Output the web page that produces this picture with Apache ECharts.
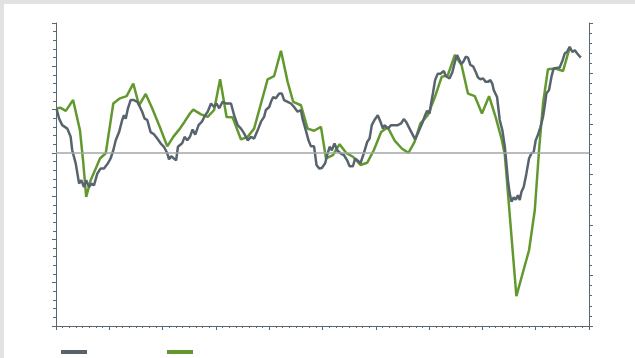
<!DOCTYPE html>
<html>
<head>
<meta charset="utf-8">
<script src="https://cdn.jsdelivr.net/npm/echarts@6/dist/echarts.min.js"></script>
<style>
	html, body { margin: 0; padding: 0; background: #e1e3e3; }
	#line-chart { position: absolute; left: 4px; top: 4px; width: 631px; height: 354px; background: #fff; }
</style>
</head>
<body>
<div id="line-chart"></div>
<script>
// x = months from the start of the chart, y = values on the left axis
var grayMonths = [0.3, 1.4, 2.8, 5.1, 6.6, 7.3, 8.9, 10.4, 11.4, 12.6, 13.6, 14.9, 15.9, 17.1, 18.6, 20.1, 21.6, 23.4, 24.6, 25.8,
	26.9, 28.4, 29.8, 30.6, 31.4, 32.4, 33.6, 35.1, 36.6, 37.8, 38.8, 39.9, 41.1, 42.6, 44.1, 45.6, 47.1, 48.6, 50.1, 50.9,
	51.9, 53.1, 54.1, 54.9, 56.8, 57.9, 59.1, 60.3, 61.5, 62.7, 64.2, 65.7, 67.2, 68.3, 69.8, 71.2, 72.3, 73.5, 75.0, 76.5,
	78.8, 80.2, 81.8, 83.3, 84.7, 86.3, 87.8, 89.2, 90.8, 92.3, 93.7, 94.5, 96.0, 96.8, 97.8, 99.0, 100.5, 101.7, 102.7, 104.3,
	105.8, 107.2, 108.8, 110.3, 111.0, 112.5, 113.7, 114.8, 116.2, 117.3, 118.5, 119.7, 121.2, 122.1, 123.2, 124.2, 125.4, 126.6, 128.1, 129.6,
	131.1, 132.2, 133.7, 134.7, 135.9, 137.1, 138.6, 140.1, 141.2, 142.2, 143.4, 144.9, 146.1, 147.2, 147.9, 149.4, 150.9, 152.1, 153.9, 155.4,
	156.6, 157.6, 159.2, 160.7, 161.7, 162.9, 164.1, 165.2, 166.2, 167.1, 168.2, 168.9, 169.7, 170.7, 171.9, 173.1, 174.6, 175.6, 177.2, 178.5,
	179.6, 180.6, 181.5, 182.6, 183.6, 184.5, 185.5, 186.6, 187.8, 189.0, 190.0, 191.1, 192.3, 193.5, 194.5, 195.6, 196.5, 197.1, 198.0, 198.6,
	199.8, 201.0, 202.1, 202.8, 203.5, 204.3, 205.1, 206.1, 207.0, 208.0, 208.8, 209.6, 210.6, 211.8, 213.0, 214.1, 215.1, 216.0, 217.0, 218.1,
	219.3, 220.1, 220.8, 222.0, 223.1, 224.1, 225.3, 226.8, 228.0, 229.1, 230.1, 231.3, 232.5, 233.6, 234.6, 235.5, 236.3];
var grayValues = [10.1, 7.9, 6.4, 5.6, 3.7, 0.6, -2.5, -7.1, -6.3, -7.9, -6.3, -7.9, -7.1, -7.5, -4.8, -3.6, -3.6, -2.4, -1.3, 0.6,
	2.9, 4.8, 7.6, 8.7, 7.9, 10.3, 12.2, 12.2, 11.8, 10.6, 9.5, 7.9, 7.6, 4.8, 4.3, 3.3, 2.2, 1.4, -0.1, -1.5,
	-0.8, -1.3, -1.7, 1.4, 2.2, 3.7, 2.9, 3.7, 5.4, 4.2, 6.4, 7.2, 8.7, 9.5, 11.4, 10.6, 11.4, 10.3, 11.8, 11.4,
	11.4, 8.7, 6.4, 5.6, 4.5, 2.9, 3.7, 3.3, 5.2, 7.2, 8.3, 9.9, 10.6, 11.8, 12.9, 12.6, 13.7, 13.7, 12.2, 11.8,
	11.4, 10.6, 9.5, 9.9, 7.9, 5.2, 2.9, 1.5, 1.5, -2.8, -3.6, -3.5, -2.4, -0.5, 1.4, 0.6, 2.2, 0.6, -0.1, -0.5,
	-1.7, -3.1, -3.1, -1.3, -1.8, -2.4, -0.1, 2.5, 3.3, 6.4, 7.6, 8.7, 7.2, 5.6, 6.4, 5.6, 6.4, 6.4, 6.4, 6.8,
	7.8, 7.2, 5.6, 4.1, 3.1, 4.5, 5.9, 7.2, 8.7, 9.7, 9.1, 11.4, 13.7, 16.8, 18.3, 18.3, 18.9, 17.7, 17.2, 18.7,
	21.0, 22.6, 21.6, 20.5, 21.2, 22.2, 22.0, 20.3, 20.0, 18.7, 17.4, 17.0, 17.2, 16.4, 16.4, 16.8, 15.9, 14.5, 14.5, 12.9,
	7.6, 5.2, 1.4, -2.4, -6.3, -9.4, -11.3, -10.3, -10.8, -9.8, -10.9, -9.0, -7.9, -4.8, -1.3, -0.1, 0.2, 2.9, 4.1, 5.9,
	8.3, 11.0, 13.7, 14.5, 17.6, 19.5, 19.6, 19.7, 21.2, 23.0, 23.3, 24.5, 23.3, 23.7, 23.0, 23.1, 22.0];

var greenMonths = [0.3, 2.1, 4.4, 7.7, 10.8, 12.3, 13.6, 15.6, 17.9, 19.8, 22.4, 25.8, 28.8, 31.8, 34.8, 37.4, 40.4, 43.3, 46.8, 50.1,
	52.8, 55.8, 57.9, 60.3, 61.8, 65.3, 68.3, 71.2, 73.9, 76.8, 79.5, 83.3, 86.3, 89.2, 95.3, 98.2, 101.3, 104.3, 106.8, 110.3,
	113.3, 116.2, 119.3, 121.6, 124.7, 127.7, 130.6, 133.7, 137.1, 140.1, 143.1, 146.4, 149.4, 152.4, 155.7, 158.7, 161.4, 164.1, 167.4, 170.4,
	173.7, 176.4, 179.6, 182.6, 185.5, 188.6, 191.8, 195.0, 198.0, 200.6, 202.1, 207.3, 213.0, 215.6, 217.5, 219.3, 221.5, 225.0, 228.3, 231.3];
var greenValues = [10.3, 10.4, 9.7, 12.2, 5.2, -2.4, -10.2, -6.3, -3.6, -1.3, -0.1, 11.4, 12.6, 13.1, 16.0, 11.0, 13.6, 10.3, 5.9, 1.5,
	3.7, 5.6, 7.2, 9.1, 10.0, 8.9, 8.3, 9.9, 17.0, 8.3, 8.2, 3.1, 3.7, 5.6, 17.0, 17.7, 23.6, 16.4, 11.8, 11.0,
	5.6, 5.1, 6.0, -1.3, -0.5, 2.0, 0.0, -0.9, -2.8, -2.3, 0.6, 4.8, 5.9, 2.9, 1.0, 0.0, 2.5, 6.8, 8.7, 12.6,
	17.6, 17.9, 22.6, 20.3, 13.7, 13.1, 9.1, 13.1, 8.2, 3.3, -0.5, -33.1, -22.5, -13.2, 0.6, 11.4, 19.3, 19.5, 18.9, 24.3];

var axisColor = '#5b6770';

var lineChart = echarts.init(document.getElementById('line-chart'));

lineChart.setOption({
	animation: false,
	grid: {
		left: 52,
		right: 46,
		top: 19,
		bottom: 32
	},
	legend: {
		left: 52,
		top: 341,
		icon: 'rect',
		itemWidth: 26,
		itemHeight: 4,
		itemGap: 80,
		formatter: function () { return ''; },
		data: ['gray', 'green']
	},
	xAxis: {
		type: 'value',
		min: 0,
		max: 240,
		interval: 24,
		axisLine: { onZero: false, lineStyle: { color: axisColor, width: 1 } },
		axisTick: { show: true, length: 4, lineStyle: { color: axisColor } },
		minorTick: { show: true, splitNumber: 8, length: 2, lineStyle: { color: axisColor } },
		axisLabel: { show: false },
		splitLine: { show: false }
	},
	yAxis: [
		{
			type: 'value',
			min: -40,
			max: 30,
			interval: 10,
			axisLine: { show: true, onZero: false, lineStyle: { color: axisColor, width: 1 } },
			axisTick: { show: true, length: 4, lineStyle: { color: axisColor } },
			minorTick: { show: true, splitNumber: 5, length: 3, lineStyle: { color: axisColor } },
			axisLabel: { show: false },
			splitLine: { show: false }
		},
		{
			type: 'value',
			position: 'right',
			min: 0,
			max: 6,
			interval: 1,
			axisLine: { show: true, onZero: false, lineStyle: { color: axisColor, width: 1 } },
			axisTick: { show: true, length: 4, lineStyle: { color: axisColor } },
			minorTick: { show: true, splitNumber: 5, length: 3, lineStyle: { color: axisColor } },
			axisLabel: { show: false },
			splitLine: { show: false }
		}
	],
	series: [
		{
			name: 'gray',
			type: 'line',
			showSymbol: false,
			color: '#58646d',
			lineStyle: { width: 2.5, color: '#58646d' },
			data: grayMonths.map(function (m, i) { return [m, grayValues[i]]; }),
			markLine: {
				silent: true,
				symbol: 'none',
				label: { show: false },
				lineStyle: { color: '#a3a7a9', width: 1.5, type: 'solid' },
				data: [{ yAxis: 0 }]
			},
			z: 3
		},
		{
			name: 'green',
			type: 'line',
			showSymbol: false,
			color: '#62992f',
			lineStyle: { width: 2.5, color: '#62992f' },
			data: greenMonths.map(function (m, i) { return [m, greenValues[i]]; }),
			z: 2
		}
	]
});
</script>
</body>
</html>
